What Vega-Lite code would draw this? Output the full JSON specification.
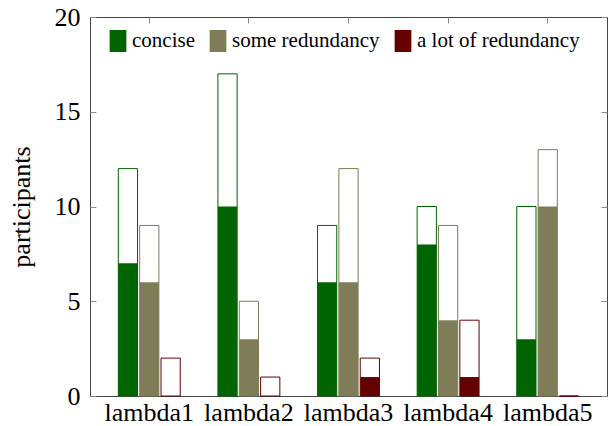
{
  "$schema": "https://vega.github.io/schema/vega-lite/v6.json",
  "width": 517,
  "height": 379,
  "autosize": "none",
  "padding": {"left": 90, "top": 17, "right": 4, "bottom": 30},
  "background": "white",
  "config": {
    "view": {"stroke": "#444", "strokeWidth": 1},
    "font": "Liberation Serif",
    "style": {"guide-label": {"font": "Liberation Serif"}, "guide-title": {"font": "Liberation Serif"}},
    "axis": {"grid": false, "domain": false, "labelFont": "Liberation Serif", "titleFont": "Liberation Serif", "labelColor": "black", "titleColor": "black", "tickColor": "#888", "labelFontSize": 26, "titleFontSize": 26, "titleFontWeight": "normal"},
    "legend": {"labelFont": "Liberation Serif"}
  },
  "data": {
    "values": [
      {"group": "lambda1", "series": "concise", "filled": 7, "total": 12},
      {"group": "lambda1", "series": "some redundancy", "filled": 6, "total": 9},
      {"group": "lambda1", "series": "a lot of redundancy", "filled": 0, "total": 2},
      {"group": "lambda2", "series": "concise", "filled": 10, "total": 17},
      {"group": "lambda2", "series": "some redundancy", "filled": 3, "total": 5},
      {"group": "lambda2", "series": "a lot of redundancy", "filled": 0, "total": 1},
      {"group": "lambda3", "series": "concise", "filled": 6, "total": 9},
      {"group": "lambda3", "series": "some redundancy", "filled": 6, "total": 12},
      {"group": "lambda3", "series": "a lot of redundancy", "filled": 1, "total": 2},
      {"group": "lambda4", "series": "concise", "filled": 8, "total": 10},
      {"group": "lambda4", "series": "some redundancy", "filled": 4, "total": 9},
      {"group": "lambda4", "series": "a lot of redundancy", "filled": 1, "total": 4},
      {"group": "lambda5", "series": "concise", "filled": 3, "total": 10},
      {"group": "lambda5", "series": "some redundancy", "filled": 10, "total": 13},
      {"group": "lambda5", "series": "a lot of redundancy", "filled": 0, "total": 0}
    ]
  },
  "encoding": {
    "x": {"field": "group", "type": "nominal", "sort": null,
          "scale": {"paddingInner": 0.357, "paddingOuter": 0.2735}},
    "xOffset": {"field": "series", "type": "nominal",
                "sort": ["concise", "some redundancy", "a lot of redundancy"],
                "scale": {"domain": ["concise", "some redundancy", "a lot of redundancy"], "paddingInner": 0.1, "paddingOuter": 0.05}}
  },
  "layer": [
    {
      "mark": {"type": "bar", "fill": "white", "strokeWidth": 1},
      "encoding": {
        "x": {"field": "group", "type": "nominal", "sort": null,
              "axis": {"orient": "bottom", "title": null, "labelAngle": 0, "tickSize": -6, "labelPadding": 9, "labelFont": "Liberation Serif"}},
        "y": {"field": "total", "type": "quantitative",
              "scale": {"domain": [0, 20], "nice": false},
              "axis": {"orient": "left", "title": "participants", "values": [0, 5, 10, 15, 20], "tickSize": -6, "labelPadding": 16, "titlePadding": 20, "labelFont": "Liberation Serif", "titleFont": "Liberation Serif"}},
        "stroke": {"field": "series", "type": "nominal",
                   "scale": {"domain": ["concise", "some redundancy", "a lot of redundancy"], "range": ["#006400", "#7f7c58", "#640000"]},
                   "legend": null}
      }
    },
    {
      "mark": {"type": "bar"},
      "encoding": {
        "x": {"field": "group", "type": "nominal", "sort": null,
              "axis": {"orient": "top", "title": null, "labels": false, "tickSize": -6}},
        "y": {"field": "filled", "type": "quantitative",
              "axis": {"orient": "right", "title": null, "labels": false, "values": [0, 5, 10, 15, 20], "tickSize": -6}},
        "fill": {"field": "series", "type": "nominal",
                 "scale": {"domain": ["concise", "some redundancy", "a lot of redundancy"], "range": ["#006400", "#7f7c58", "#640000"]},
                 "legend": {"title": null, "orient": "none", "direction": "horizontal", "legendX": 17, "legendY": 13, "padding": 0,
                            "symbolType": "M-0.76,-1H0.76V1H-0.76Z", "symbolSize": 484, "symbolStrokeWidth": 0,
                            "labelFont": "Liberation Serif", "labelFontSize": 21, "labelColor": "black", "labelOffset": 3,
                            "columnPadding": 12, "labelLimit": 300}}
      }
    }
  ],
  "resolve": {"axis": {"x": "independent", "y": "independent"}, "legend": {"fill": "independent", "stroke": "independent"}}
}
